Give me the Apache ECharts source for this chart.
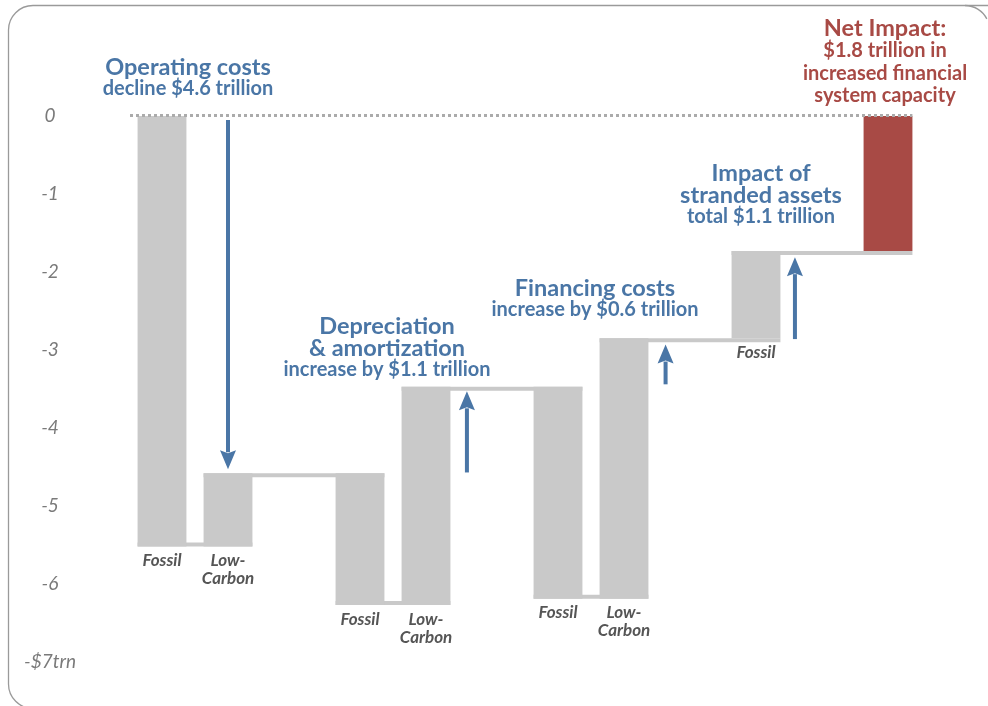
<!DOCTYPE html>
<html><head><meta charset="utf-8">
<script src="https://cdn.jsdelivr.net/npm/echarts@6/dist/echarts.min.js"></script>
<style>html,body{margin:0;padding:0;background:#fff;overflow:hidden}#c{width:988px;height:706px}</style>
</head><body><div id="c"></div>
<script>
// ---- data ----
const yTicks = [0, -1, -2, -3, -4, -5, -6, -7];
const yTickLabels = ['0', '-1', '-2', '-3', '-4', '-5', '-6', '-$7trn'];

const barSlots   = [0, 1, 3, 4, 6, 7, 9, 11];
const barNames   = ['Fossil', 'Low-\nCarbon', 'Fossil', 'Low-\nCarbon', 'Fossil', 'Low-\nCarbon', 'Fossil', ''];
const barTops    = [0, -4.58, -4.58, -3.47, -3.47, -2.85, -1.73, 0];
const barBottoms = [-5.52, -5.52, -6.27, -6.27, -6.19, -6.19, -2.85, -1.73];
const barIsNet   = [false, false, false, false, false, false, false, true];

const connFrom  = [0, 1, 2, 3, 4, 5, 6];
const connTo    = [1, 2, 3, 4, 5, 6, 7];
const connLevel = [-5.52, -4.58, -6.27, -3.47, -6.19, -2.85, -1.73];
const connSide  = ['bottom', 'top', 'bottom', 'top', 'bottom', 'top', 'top'];

const arrowSlot = [1.5, 5.12, 8.13, 10.09];
const arrowFrom = [-0.05, -4.57, -3.44, -2.86];
const arrowTo   = [-4.53, -3.53, -2.93, -1.81];

const noteOperating = ['Operating costs', 'decline $4.6 trillion'];
const noteDepr      = ['Depreciation', '& amortization', 'increase by $1.1 trillion'];
const noteFinancing = ['Financing costs', 'increase by $0.6 trillion'];
const noteStranded  = ['Impact of', 'stranded assets', 'total $1.1 trillion'];
const noteNet       = ['Net Impact:', '$1.8 trillion in', 'increased financial', 'system capacity'];

// ---- styles ----
const GRAY = '#c9c9c9', BLUE = '#4a76a6', RED = '#a84a45';
const BAR_W = 0.74; // in slot units
const FONT = 'Lato, "Noto Sans", sans-serif';
const BIG = 23.5, SMALL = 20;

const chart = echarts.init(document.getElementById('c'), null, {renderer: 'canvas'});

const barData = barSlots.map((s, i) => [s + 0.5, barTops[i], barBottoms[i], i]);
const connData = connFrom.map((f, i) => [barSlots[f] + 0.5 - BAR_W / 2, barSlots[connTo[i]] + 0.5 + BAR_W / 2, connLevel[i], i]);
const arrowData = arrowSlot.map((s, i) => [s, arrowFrom[i], arrowTo[i]]);
const netIdx = barIsNet.indexOf(true);
const refData = [[0, barSlots[netIdx] + 0.5 + BAR_W / 2, 0]];

function textBlock(lines, cx, yStart, sizes, lh, color) {
  let y = yStart;
  return lines.map((t, i) => {
    const el = {
      type: 'text', x: cx, y: y, z: 10,
      style: {text: t, fill: color, font: 'bold ' + sizes[i] + 'px ' + FONT, textAlign: 'center', textVerticalAlign: 'middle'}
    };
    y += lh[i] || 0;
    return el;
  });
}

const graphics = [
  {type: 'polyline', shape: {points: [[990, 5.5], [33, 5.5]]}, style: {stroke: '#9a9a9a', lineWidth: 1.3, fill: null}, z: 0},
  {type: 'arc', shape: {cx: 33, cy: 30, r: 24.5, startAngle: Math.PI, endAngle: Math.PI * 1.5}, style: {stroke: '#9a9a9a', lineWidth: 1.3, fill: null}, z: 0},
  {type: 'polyline', shape: {points: [[8.5, 30], [8.5, 684]]}, style: {stroke: '#9a9a9a', lineWidth: 1.3, fill: null}, z: 0},
  {type: 'arc', shape: {cx: 33, cy: 684, r: 24.5, startAngle: Math.PI * 0.5, endAngle: Math.PI, clockwise: true}, style: {stroke: '#9a9a9a', lineWidth: 1.3, fill: null}, z: 0},
  {type: 'arc', shape: {cx: 965, cy: 30, r: 24.5, startAngle: Math.PI * 1.5, endAngle: Math.PI * 1.85}, style: {stroke: '#9a9a9a', lineWidth: 1.3, fill: null}, z: 0}
].concat(
  textBlock(noteOperating, 188, 67, [BIG, SMALL], [22], BLUE),
  textBlock(noteDepr, 387, 326, [BIG, BIG, SMALL], [22, 22], BLUE),
  textBlock(noteFinancing, 595, 288, [BIG, SMALL], [22], BLUE),
  textBlock(noteStranded, 761, 173, [BIG, BIG, SMALL], [22, 22], BLUE),
  textBlock(noteNet, 885, 28, [BIG, SMALL, SMALL, SMALL], [23, 22.5, 22], RED)
);

const option = {
  animation: false,
  backgroundColor: '#fff',
  grid: {left: 129, right: 67, top: 116, bottom: 44},
  xAxis: {type: 'value', min: 0, max: 12, show: false},
  yAxis: {
    type: 'value', min: -7, max: 0, interval: 1,
    axisLine: {show: false}, axisTick: {show: false}, splitLine: {show: false},
    axisLabel: {
      margin: 79, align: 'center', color: '#7a7a7a', fontStyle: 'italic', fontSize: 19, fontFamily: FONT,
      formatter: v => { const k = yTicks.indexOf(Math.round(v)); return k >= 0 ? yTickLabels[k] : ''; }
    }
  },
  series: [
    { // connectors
      type: 'custom', z: 1, data: connData, silent: true,
      renderItem: (params, api) => {
        const a = api.coord([api.value(0), api.value(2)]);
        const b = api.coord([api.value(1), api.value(2)]);
        const side = connSide[api.value(3)];
        const h = 4;
        return {type: 'rect', shape: {x: a[0], y: side === 'top' ? a[1] : a[1] - h, width: b[0] - a[0], height: h}, style: {fill: GRAY}};
      }
    },
    { // bars
      type: 'custom', z: 2, data: barData, silent: true,
      renderItem: (params, api) => {
        const i = api.value(3);
        const p1 = api.coord([api.value(0), api.value(1)]);
        const p2 = api.coord([api.value(0), api.value(2)]);
        const w = api.size([BAR_W, 0])[0];
        const children = [{type: 'rect', shape: {x: p1[0] - w / 2, y: p1[1], width: w, height: p2[1] - p1[1]}, style: {fill: barIsNet[i] ? RED : GRAY}}];
        if (barNames[i]) {
          children.push({type: 'text', x: p1[0], y: p2[1] + 5, style: {text: barNames[i], fill: '#555', font: 'italic bold 17px ' + FONT, textAlign: 'center', textVerticalAlign: 'top', lineHeight: 18}});
        }
        return {type: 'group', children};
      }
    },
    { // zero reference dotted line
      type: 'custom', z: 3, data: refData, silent: true,
      renderItem: (params, api) => {
        const a = api.coord([api.value(0), api.value(2)]);
        const b = api.coord([api.value(1), api.value(2)]);
        return {type: 'line', shape: {x1: a[0] + 1, y1: a[1] - 0.5, x2: b[0], y2: b[1] - 0.5}, style: {stroke: '#ababab', lineWidth: 3, lineDash: [3, 3]}};
      }
    },
    { // arrows
      type: 'custom', z: 4, data: arrowData, silent: true,
      renderItem: (params, api) => {
        const a = api.coord([api.value(0), api.value(1)]);
        const b = api.coord([api.value(0), api.value(2)]);
        const dir = b[1] > a[1] ? 1 : -1;
        const headL = 19, headW = 8;
        const baseY = b[1] - dir * headL;
        return {type: 'group', children: [
          {type: 'line', shape: {x1: a[0], y1: a[1], x2: b[0], y2: baseY + dir * 2}, style: {stroke: BLUE, lineWidth: 4}},
          {type: 'polygon', shape: {points: [[b[0], b[1]], [b[0] - headW, baseY], [b[0], baseY + dir * 3], [b[0] + headW, baseY]]}, style: {fill: BLUE}}
        ]};
      }
    }
  ],
  graphic: graphics
};
chart.setOption(option);
</script>
</body></html>
